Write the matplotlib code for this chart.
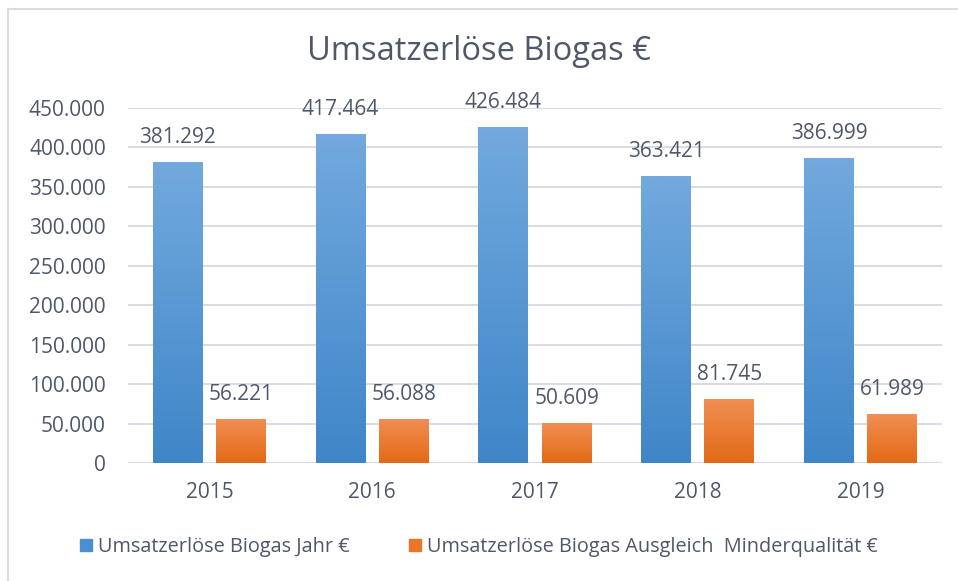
# Umsatzerlöse Biogas – grouped bar chart with gradient bars (Excel look)
import numpy as np
import matplotlib.pyplot as plt
from matplotlib.colors import LinearSegmentedColormap
from matplotlib.patches import Rectangle

years = ["2015", "2016", "2017", "2018", "2019"]
umsatz_jahr = [381292, 417464, 426484, 363421, 386999]
ausgleich_minder = [56221, 56088, 50609, 81745, 61989]
series_names = ["Umsatzerlöse Biogas Jahr €",
                "Umsatzerlöse Biogas Ausgleich  Minderqualität €"]
y_ticks = [0, 50000, 100000, 150000, 200000, 250000, 300000, 350000, 400000, 450000]

TEXT = "#4f5869"
GRID = "#d9dde3"
plt.rcParams['font.family'] = ['Open Sans', 'DejaVu Sans']


def fmt(v):
    return f"{v:,}".replace(",", ".")


def gradient_bars(ax, bars, top, bottom):
    cmap = LinearSegmentedColormap.from_list("g", [bottom, top])
    grad = np.linspace(0, 1, 256).reshape(-1, 1)
    for b in bars:
        x0, y0 = b.get_x(), b.get_y()
        w, h = b.get_width(), b.get_height()
        im = ax.imshow(grad, cmap=cmap, origin="lower", aspect="auto",
                       extent=(x0, x0 + w, y0, y0 + h), zorder=3)
        im.set_clip_path(b)


fig = plt.figure(figsize=(9.58, 5.81), dpi=100)
ax = fig.add_axes([128 / 958, (581 - 463) / 581, 814 / 958, 355 / 581])

x = np.arange(len(years))
w = 0.307
off = 0.194
b1 = ax.bar(x - off, umsatz_jahr, w, color="#5b9bd5", zorder=2,
            label=series_names[0])
b2 = ax.bar(x + off, ausgleich_minder, w, color="#ed7d31", zorder=2,
            label=series_names[1])
gradient_bars(ax, b1, "#72a9de", "#3f86c8")
gradient_bars(ax, b2, "#f18f55", "#e26a15")

for xs, vals in ((x - off, umsatz_jahr), (x + off, ausgleich_minder)):
    for xi, v in zip(xs, vals):
        ax.annotate(fmt(v), (xi, v), xytext=(0, 10), textcoords="offset points",
                    ha="center", va="bottom", fontsize=15, color=TEXT, zorder=5)

ax.set_xlim(-0.5, len(years) - 0.5)
ax.set_ylim(0, 450000)
ax.set_yticks(y_ticks)
ax.set_yticklabels([fmt(t) for t in y_ticks])
ax.set_xticks(x)
ax.set_xticklabels(years)
ax.tick_params(length=0, labelsize=15, labelcolor=TEXT)
ax.tick_params(axis="y", pad=16)
ax.tick_params(axis="x", pad=14)
ax.grid(axis="y", color=GRID, linewidth=1.5, zorder=0)
for s in ax.spines.values():
    s.set_visible(False)
ax.axhline(0, color=GRID, linewidth=1.5, zorder=1)

fig.text(0.5, 1 - 52 / 581, "Umsatzerlöse Biogas €", ha="center", va="center",
         fontsize=23.5, color=TEXT)

handles = [Rectangle((0, 0), 1, 1, color="#4a90d0"),
           Rectangle((0, 0), 1, 1, color="#ea7629")]
fig.legend(handles, series_names, loc="center", bbox_to_anchor=(0.5, 1 - 547 / 581),
           ncol=2, frameon=False, fontsize=14.3, labelcolor=TEXT,
           handlelength=0.6, handleheight=0.6, handletextpad=0.3, columnspacing=3.0)

# light outer frame (top and left only visible in the screenshot)
fig.add_artist(plt.Line2D([8 / 958, 8 / 958], [0, 1 - 9 / 581], color=GRID,
                          linewidth=1.5, transform=fig.transFigure))
fig.add_artist(plt.Line2D([8 / 958, 1], [1 - 9 / 581, 1 - 9 / 581], color=GRID,
                          linewidth=1.5, transform=fig.transFigure))

plt.savefig("out.png", dpi=100)
